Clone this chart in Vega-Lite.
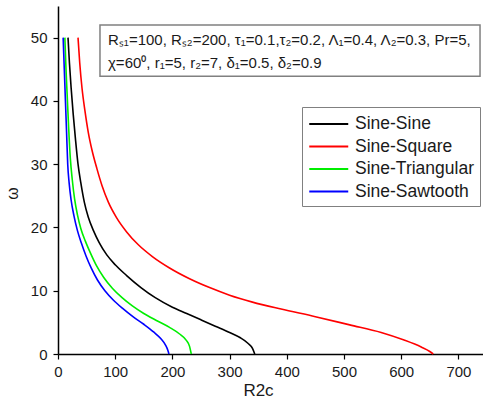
{
  "$schema": "https://vega.github.io/schema/vega-lite/v6.json",
  "autosize": {"type": "none"},
  "padding": {"left": 58, "top": 6, "right": 0, "bottom": 48},
  "width": 425,
  "height": 348,
  "background": "white",
  "config": {
    "view": {"stroke": null},
    "font": "Liberation Sans",
    "axis": {
      "grid": false,
      "domainColor": "black",
      "domainWidth": 1.5,
      "tickColor": "black",
      "tickWidth": 1.2,
      "labelColor": "#1a1a1a",
      "labelFont": "Liberation Sans",
      "labelFontSize": 15,
      "titleFont": "Liberation Sans",
      "titleFontWeight": "normal",
      "titleColor": "#1a1a1a"
    }
  },
  "datasets": {
    "curves": [
      {"s": "Sine-Sine", "x": 17.5, "y": 50}, {"s": "Sine-Sine", "x": 20, "y": 46}, {"s": "Sine-Sine", "x": 23, "y": 42}, {"s": "Sine-Sine", "x": 26.5, "y": 38}, {"s": "Sine-Sine", "x": 30.5, "y": 34}, {"s": "Sine-Sine", "x": 35, "y": 30}, {"s": "Sine-Sine", "x": 40, "y": 27}, {"s": "Sine-Sine", "x": 46, "y": 24}, {"s": "Sine-Sine", "x": 53, "y": 21.6}, {"s": "Sine-Sine", "x": 62, "y": 19.5}, {"s": "Sine-Sine", "x": 72, "y": 17.6}, {"s": "Sine-Sine", "x": 85, "y": 15.7}, {"s": "Sine-Sine", "x": 100, "y": 14.1}, {"s": "Sine-Sine", "x": 120, "y": 12.4}, {"s": "Sine-Sine", "x": 145, "y": 10.5}, {"s": "Sine-Sine", "x": 170, "y": 8.9}, {"s": "Sine-Sine", "x": 200, "y": 7.4}, {"s": "Sine-Sine", "x": 225, "y": 6.4}, {"s": "Sine-Sine", "x": 250, "y": 5.4}, {"s": "Sine-Sine", "x": 275, "y": 4.4}, {"s": "Sine-Sine", "x": 300, "y": 3.4}, {"s": "Sine-Sine", "x": 318, "y": 2.6}, {"s": "Sine-Sine", "x": 332, "y": 1.7}, {"s": "Sine-Sine", "x": 340, "y": 0.9}, {"s": "Sine-Sine", "x": 344, "y": 0},
      {"s": "Sine-Square", "x": 35, "y": 50}, {"s": "Sine-Square", "x": 38, "y": 46}, {"s": "Sine-Square", "x": 42, "y": 42}, {"s": "Sine-Square", "x": 47, "y": 38.5}, {"s": "Sine-Square", "x": 53, "y": 35}, {"s": "Sine-Square", "x": 60, "y": 32}, {"s": "Sine-Square", "x": 68, "y": 29.3}, {"s": "Sine-Square", "x": 77, "y": 26.6}, {"s": "Sine-Square", "x": 88, "y": 24}, {"s": "Sine-Square", "x": 102, "y": 21.6}, {"s": "Sine-Square", "x": 120, "y": 19.3}, {"s": "Sine-Square", "x": 140, "y": 17.3}, {"s": "Sine-Square", "x": 165, "y": 15.4}, {"s": "Sine-Square", "x": 195, "y": 13.6}, {"s": "Sine-Square", "x": 230, "y": 11.9}, {"s": "Sine-Square", "x": 265, "y": 10.5}, {"s": "Sine-Square", "x": 300, "y": 9.3}, {"s": "Sine-Square", "x": 340, "y": 8.2}, {"s": "Sine-Square", "x": 390, "y": 7.1}, {"s": "Sine-Square", "x": 450, "y": 5.9}, {"s": "Sine-Square", "x": 510, "y": 4.6}, {"s": "Sine-Square", "x": 565, "y": 3.4}, {"s": "Sine-Square", "x": 605, "y": 2.2}, {"s": "Sine-Square", "x": 635, "y": 1.1}, {"s": "Sine-Square", "x": 650, "y": 0.4}, {"s": "Sine-Square", "x": 656, "y": 0},
      {"s": "Sine-Triangular", "x": 12, "y": 50}, {"s": "Sine-Triangular", "x": 14, "y": 45}, {"s": "Sine-Triangular", "x": 16, "y": 41}, {"s": "Sine-Triangular", "x": 18.5, "y": 36}, {"s": "Sine-Triangular", "x": 21.5, "y": 31}, {"s": "Sine-Triangular", "x": 25, "y": 27.5}, {"s": "Sine-Triangular", "x": 29, "y": 24.5}, {"s": "Sine-Triangular", "x": 34, "y": 22}, {"s": "Sine-Triangular", "x": 40, "y": 19.8}, {"s": "Sine-Triangular", "x": 48, "y": 17.8}, {"s": "Sine-Triangular", "x": 57, "y": 15.9}, {"s": "Sine-Triangular", "x": 67, "y": 14}, {"s": "Sine-Triangular", "x": 80, "y": 12.1}, {"s": "Sine-Triangular", "x": 95, "y": 10.4}, {"s": "Sine-Triangular", "x": 112, "y": 8.9}, {"s": "Sine-Triangular", "x": 130, "y": 7.6}, {"s": "Sine-Triangular", "x": 150, "y": 6.4}, {"s": "Sine-Triangular", "x": 172, "y": 5.3}, {"s": "Sine-Triangular", "x": 195, "y": 4.2}, {"s": "Sine-Triangular", "x": 212, "y": 3.2}, {"s": "Sine-Triangular", "x": 224, "y": 2.2}, {"s": "Sine-Triangular", "x": 230, "y": 1.2}, {"s": "Sine-Triangular", "x": 233, "y": 0},
      {"s": "Sine-Sawtooth", "x": 9, "y": 50}, {"s": "Sine-Sawtooth", "x": 11, "y": 45}, {"s": "Sine-Sawtooth", "x": 13, "y": 40}, {"s": "Sine-Sawtooth", "x": 15, "y": 35}, {"s": "Sine-Sawtooth", "x": 17, "y": 30}, {"s": "Sine-Sawtooth", "x": 19.5, "y": 27}, {"s": "Sine-Sawtooth", "x": 23, "y": 24.3}, {"s": "Sine-Sawtooth", "x": 28, "y": 21.8}, {"s": "Sine-Sawtooth", "x": 34, "y": 19.5}, {"s": "Sine-Sawtooth", "x": 41, "y": 17.5}, {"s": "Sine-Sawtooth", "x": 49, "y": 15.5}, {"s": "Sine-Sawtooth", "x": 58, "y": 13.6}, {"s": "Sine-Sawtooth", "x": 69, "y": 11.7}, {"s": "Sine-Sawtooth", "x": 82, "y": 10}, {"s": "Sine-Sawtooth", "x": 97, "y": 8.5}, {"s": "Sine-Sawtooth", "x": 113, "y": 7.2}, {"s": "Sine-Sawtooth", "x": 131, "y": 5.9}, {"s": "Sine-Sawtooth", "x": 150, "y": 4.7}, {"s": "Sine-Sawtooth", "x": 167, "y": 3.5}, {"s": "Sine-Sawtooth", "x": 180, "y": 2.4}, {"s": "Sine-Sawtooth", "x": 188, "y": 1.4}, {"s": "Sine-Sawtooth", "x": 192, "y": 0.6}, {"s": "Sine-Sawtooth", "x": 194, "y": 0}
    ]
  },
  "layer": [
    {
      "data": {"name": "curves"},
      "mark": {"type": "line", "strokeWidth": 1.6, "interpolate": "monotone"},
      "encoding": {
        "x": {
          "field": "x", "type": "quantitative",
          "scale": {"domain": [0, 743], "nice": false, "zero": false},
          "axis": {
            "title": "R2c", "titleFontSize": 17, "titleX": 200, "titleY": 36, "titleBaseline": "middle",
            "values": [0, 50, 100, 150, 200, 250, 300, 350, 400, 450, 500, 550, 600, 650, 700],
            "labelExpr": "datum.value % 100 === 0 ? datum.label : ''",
            "tickSize": {"condition": {"test": "datum.value % 100 === 0", "value": 5}, "value": 3},
            "labelPadding": 5, "labelFlush": false, "labelOverlap": false
          }
        },
        "y": {
          "field": "y", "type": "quantitative",
          "scale": {"domain": [0, 55], "nice": false},
          "axis": {
            "title": "ω", "titleFontSize": 16, "titleX": -46, "titleY": 187, "titleAlign": "center", "titleBaseline": "middle", "titleAngle": -90,
            "values": [0, 5, 10, 15, 20, 25, 30, 35, 40, 45, 50],
            "labelExpr": "datum.value % 10 === 0 ? datum.label : ''",
            "tickSize": {"condition": {"test": "datum.value % 10 === 0", "value": 5}, "value": 4},
            "labelPadding": 6, "labelFlush": false, "labelOverlap": false
          }
        },
        "color": {
          "field": "s", "type": "nominal",
          "scale": {
            "domain": ["Sine-Sine", "Sine-Square", "Sine-Triangular", "Sine-Sawtooth"],
            "range": ["#000000", "#ff0000", "#00ee00", "#0000ff"]
          },
          "legend": {
            "title": null, "orient": "none", "legendX": 244, "legendY": 101,
            "symbolType": "M-1,0H3", "symbolSize": 380, "symbolStrokeWidth": 2,
            "labelFontSize": 17.5, "labelFont": "Liberation Sans", "labelColor": "#1a1a1a", "labelOffset": 25,
            "rowPadding": 2.5, "padding": 6, "strokeColor": "#808080", "fillColor": "white"
          }
        }
      }
    },
    {
      "data": {"values": [{}]},
      "mark": {"type": "rect", "fill": "white", "stroke": "#808080", "strokeWidth": 1.5},
      "encoding": {
        "x": {"datum": 73.4, "type": "quantitative"},
        "x2": {"datum": 737.8},
        "y": {"datum": 52.0, "type": "quantitative"},
        "y2": {"datum": 43.9}
      }
    },
    {
      "data": {"values": [{}]},
      "mark": {
        "type": "text", "align": "left", "baseline": "middle", "fontSize": 15, "lineHeight": 23,
        "font": "Liberation Sans", "color": "#1a1a1a",
        "text": ["Rₛ₁=100, Rₛ₂=200, τ₁=0.1,τ₂=0.2, Λ₁=0.4, Λ₂=0.3, Pr=5,", "χ=60⁰, r₁=5, r₂=7, δ₁=0.5, δ₂=0.9"]
      },
      "encoding": {
        "x": {"datum": 87.4, "type": "quantitative"},
        "y": {"datum": 49.6, "type": "quantitative"}
      }
    }
  ]
}
